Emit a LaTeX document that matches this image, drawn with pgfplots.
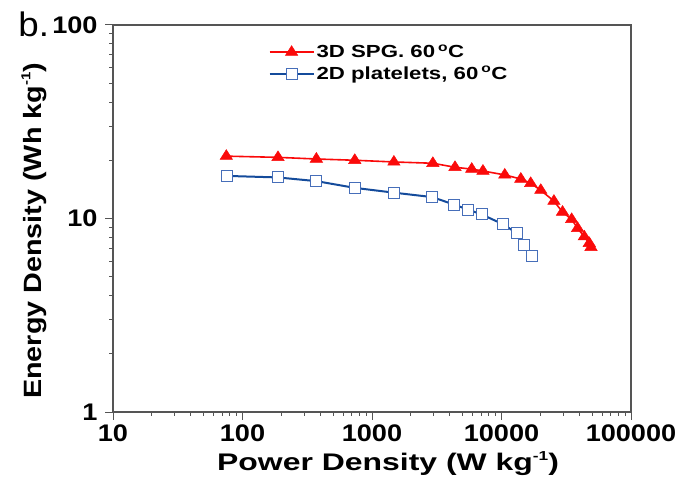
\documentclass[border=0pt]{standalone}
\usepackage{fontspec}
\setmainfont{Liberation Sans}[FakeStretch=1.08]
\newfontfamily\wideA{Liberation Sans}[FakeStretch=1.27]
\newfontfamily\wideX{Liberation Sans}[FakeStretch=1.33]
\newfontfamily\wideB{Liberation Sans}[FakeStretch=1.13]
\newfontfamily\wideC{Liberation Sans}[FakeStretch=1.15]
\usepackage{pgfplots}
\pgfplotsset{compat=1.18}
\definecolor{myred}{RGB}{250,10,10}
\definecolor{myblue}{RGB}{20,75,155}
\definecolor{myblueedge}{RGB}{70,110,185}
\definecolor{axgray}{RGB}{85,85,85}
\newcommand{\mysup}[1]{\raisebox{0.8ex}{\fontsize{13}{13}\selectfont #1}}
\begin{document}
\begin{tikzpicture}
\begin{axis}[
  scale only axis,
  width=518pt, height=387pt,
  xmode=log, ymode=log,
  xmin=10, xmax=100000, ymin=1, ymax=100,
  xtick={10,100,1000,10000,100000},
  xticklabels={10,100,1000,10000,100000},
  ytick={1,10,100},
  yticklabels={1,10,100},
  xtick pos=bottom, ytick pos=left,
  tick align=outside,
  major tick length=8pt, minor tick length=4pt,
  every tick/.style={axgray, line width=1pt},
  axis line style={axgray, line width=1.3pt},
  ticklabel style={font=\wideB\fontsize{24}{26}\selectfont\bfseries},
  xticklabel style={yshift=-1pt},
  yticklabel style={xshift=-4pt},
  xlabel={Power Density (W kg\mysup{-1})},
  ylabel={Energy Density (Wh kg\mysup{-1})},
  xlabel style={font=\wideX\fontsize{24}{26}\selectfont\bfseries, at={(ticklabel cs:0.531)}, yshift=-3pt},
  ylabel style={font=\wideC\fontsize{25}{27}\selectfont\bfseries, at={(ticklabel cs:0.468)}, yshift=-1pt},
  legend style={draw=none, fill=none, at={(0.30,0.954)}, anchor=north west,
    font=\wideA\fontsize{17.5}{20}\selectfont\bfseries, inner sep=0pt, row sep=3pt},
  legend cell align=left,
  legend image code/.code={\draw[mark repeat=2,mark phase=2] plot coordinates {(0pt,0pt) (22pt,0pt) (44pt,0pt)};},
  clip=false,
]
\coordinate (SW) at (rel axis cs:0,0);
\coordinate (NE) at (rel axis cs:1,1);
\addplot[myred, line width=1.6pt, mark=triangle*, mark size=6.5pt, mark options={fill=myred, draw=myred, line width=0.5pt, xscale=1.1}] coordinates {
(75,21.0) (188,20.7) (372,20.3) (736,20.0) (1476,19.6) (2950,19.3) (4375,18.4) (5890,18.0) (7190,17.6) (10600,16.8) (14100,16.0) (16800,15.2) (20100,14.0) (25400,12.3) (29600,10.8) (34800,9.9) (38700,8.9) (43600,8.05) (47600,7.45) (49100,7.1)
};
\addlegendentry{3D SPG. 60\,\textsuperscript{o}C}
\addplot[myblue, line width=2pt, mark=square*, mark size=5.5pt, mark options={fill=white, draw=myblueedge, line width=1pt}] coordinates {
(76,16.6) (188,16.3) (372,15.6) (736,14.4) (1476,13.6) (2925,12.9) (4300,11.8) (5550,11.1) (7030,10.5) (10300,9.33) (13100,8.41) (14960,7.30) (17300,6.43)
};
\addlegendentry{2D platelets, 60\,\textsuperscript{o}C}
\node[anchor=base west, font=\fontsize{34}{36}\selectfont, inner sep=0pt] at (rel axis cs:-0.183,0.969) {b.};
\end{axis}
\pgfresetboundingbox
\path ([shift={(-113pt,-78pt)}]SW) rectangle ([shift={(59pt,25pt)}]NE);
\end{tikzpicture}
\end{document}
